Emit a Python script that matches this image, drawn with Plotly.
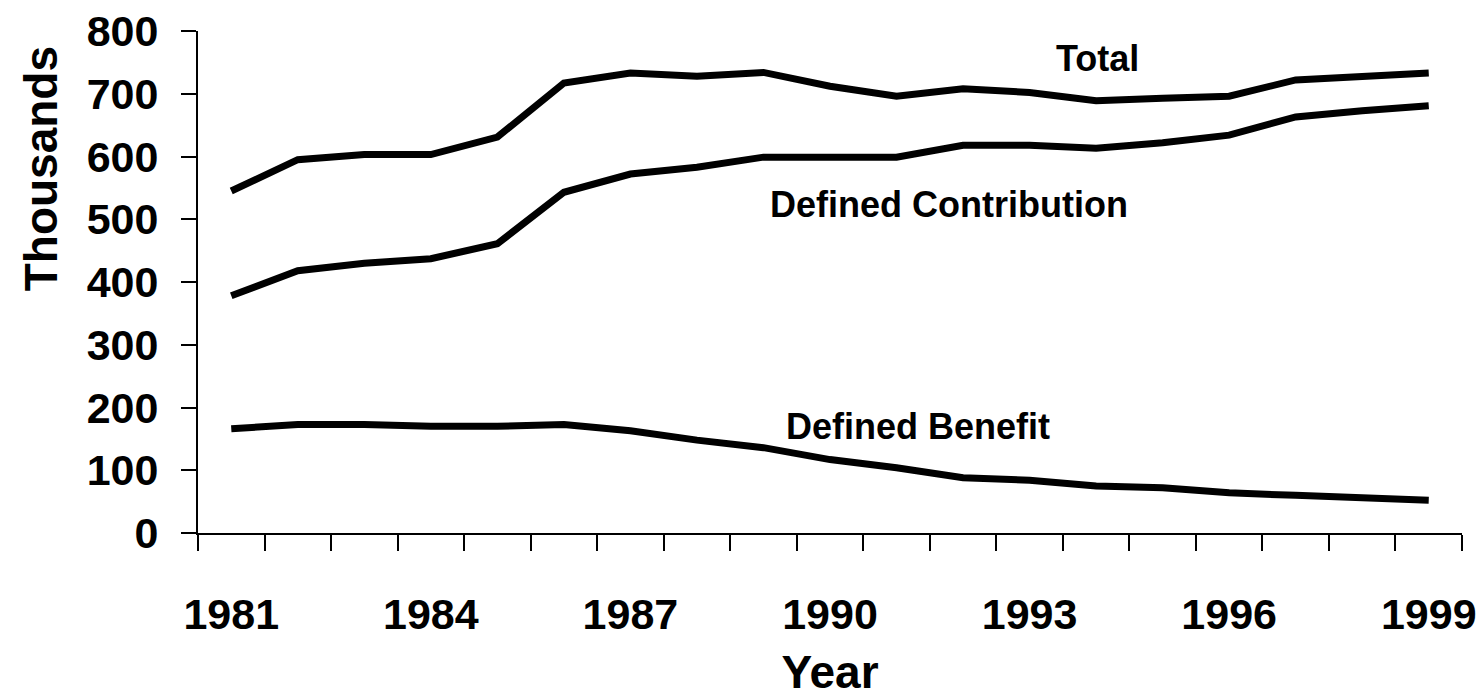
import plotly.graph_objects as go

# ── Data ───────────────────────────────────────────────────────────────────────
years = list(range(1981, 2000))
total = [545, 595, 603, 603, 631, 717, 733, 728, 734, 712, 696, 708, 702,
         689, 693, 696, 722, 728, 733]
defined_contribution = [378, 418, 430, 437, 461, 543, 572, 583, 599, 599, 599,
                        618, 618, 613, 622, 634, 663, 673, 681]
defined_benefit = [166, 173, 173, 170, 170, 173, 163, 148, 136, 117, 104, 88,
                   84, 75, 72, 64, 60, 56, 52]
year_ticks = [1981, 1984, 1987, 1990, 1993, 1996, 1999]
y_ticks = [0, 100, 200, 300, 400, 500, 600, 700, 800]

# ── Style ──────────────────────────────────────────────────────────────────────
FONT = "Arial, Liberation Sans, sans-serif"
TICK_FONT = dict(family=FONT, size=43, color="black", weight="bold")
LABEL_FONT = dict(family=FONT, size=36, color="black", weight="bold")
TITLE_FONT = dict(family=FONT, size=46, color="black", weight="bold")
LINE = dict(color="black", width=7)

fig = go.Figure()
for name, values in [("Total", total),
                     ("Defined Contribution", defined_contribution),
                     ("Defined Benefit", defined_benefit)]:
    fig.add_trace(go.Scatter(x=years, y=values, mode="lines", name=name, line=LINE))

# series labels sit next to the lines, like the original
for text, x, y in [("Total", 0.712, 0.946),
                   ("Defined Contribution", 0.594, 0.655),
                   ("Defined Benefit", 0.570, 0.213)]:
    fig.add_annotation(text=text, xref="paper", yref="paper", x=x, y=y,
                       xanchor="center", yanchor="middle",
                       showarrow=False, font=LABEL_FONT)

# y title sits above the axis centre in the original, so place it by hand
fig.add_annotation(text="Thousands", xref="paper", yref="paper", x=-0.124, y=0.725,
                   xanchor="center", yanchor="middle", textangle=-90,
                   showarrow=False, font=TITLE_FONT)

# page body has an 8px margin, so the plot area is offset by that much
fig.update_layout(
    width=1484, height=700,
    plot_bgcolor="white", paper_bgcolor="white",
    showlegend=False,
    margin=dict(l=190, r=30, t=23, b=175, autoexpand=False),
    xaxis=dict(
        range=[1980.5, 1999.5],
        tickvals=year_ticks,
        ticktext=[str(y) for y in year_ticks],
        ticks="outside", ticklen=0, tickwidth=2, tickcolor="black",
        minor=dict(ticks="outside", ticklen=16, tickwidth=2, tickcolor="black",
                   tick0=1980.5, dtick=1),
        tickfont=TICK_FONT, ticklabelstandoff=42, ticklabeloverflow="allow",
        showline=True, linecolor="black", linewidth=2,
        showgrid=False, zeroline=False,
        title=dict(text="Year", font=TITLE_FONT, standoff=19),
    ),
    yaxis=dict(
        range=[0, 800],
        tickvals=y_ticks,
        ticks="outside", ticklen=15, tickwidth=2, tickcolor="black",
        tickfont=TICK_FONT, ticklabelstandoff=14, ticklabeloverflow="allow",
        showline=True, linecolor="black", linewidth=2,
        showgrid=False, zeroline=False,
    ),
)

fig.write_html("out.html")
